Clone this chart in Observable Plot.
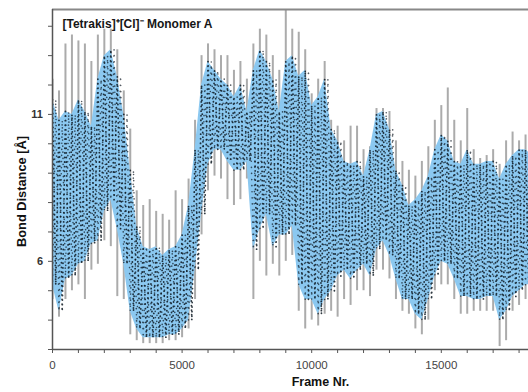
<!DOCTYPE html>
<html><head><meta charset="utf-8">
<script src="https://cdn.jsdelivr.net/npm/d3@7"></script>
<script src="https://cdn.jsdelivr.net/npm/@observablehq/plot@0.6"></script>
<style>html,body{margin:0;padding:0;background:#fff;overflow:hidden}</style>
</head><body><div id="chart"></div>
<script>
// Frame numbers (x), sampled every 250 frames
const frames = [0,250,500,750,1000,1250,1500,1750,2000,2250,2500,2750,3000,3250,3500,3750,4000,4250,4500,4750,5000,5250,5500,5750,6000,6250,6500,6750,7000,7250,7500,7750,8000,8250,8500,8750,9000,9250,9500,9750,10000,10250,10500,10750,11000,11250,11500,11750,12000,12250,12500,12750,13000,13250,13500,13750,14000,14250,14500,14750,15000,15250,15500,15750,16000,16250,16500,16750,17000,17250,17500,17750,18000,18250,18500];
// Upper / lower edge of the dense band (Å)
const bandHi = [11.5,10.8,11.1,11.0,11.5,11.1,10.6,12.2,13.0,13.2,12.3,11.0,9.1,7.2,6.5,6.4,6.5,6.2,6.4,6.5,6.9,7.9,9.8,12.0,12.8,12.5,12.2,12.0,11.6,12.0,11.1,12.5,13.2,12.8,12.2,11.1,12.8,13.0,12.3,12.5,11.3,11.6,12.2,10.5,10.1,9.4,9.3,9.4,8.9,9.8,11.0,11.1,10.5,9.1,8.6,7.9,8.1,8.4,8.9,9.8,10.3,10.1,9.4,9.3,9.8,9.3,9.3,9.4,9.4,8.8,9.3,9.6,9.8,9.8,9.6];
const bandLo = [5.2,4.3,5.4,5.5,5.9,6.0,6.6,6.7,7.7,8.1,7.1,5.9,4.3,3.7,3.4,3.4,3.4,3.4,3.5,3.5,3.7,4.0,5.7,7.6,9.3,9.8,9.8,9.4,9.1,9.1,9.4,6.4,7.1,7.6,6.5,6.9,6.9,7.2,5.2,4.7,4.7,4.2,4.7,5.0,5.5,5.7,5.4,5.7,5.9,5.5,6.4,6.7,6.2,5.4,4.7,4.7,4.2,4.0,4.7,5.5,6.0,5.9,5.4,4.8,4.8,4.7,4.7,4.8,4.8,4.0,4.3,4.8,5.0,5.2,5.2];
// Extreme single-frame excursions (grey spikes)
const spikeHi = [12.2,11.8,13.4,13.7,13.5,13.4,12.8,13.7,13.9,13.9,13.2,11.8,10.5,8.4,7.9,8.1,7.7,7.6,7.4,8.4,8.1,8.8,10.8,13.0,13.4,13.2,13.0,13.0,12.5,12.8,12.2,13.4,13.9,13.7,13.0,12.5,14.6,13.9,13.8,13.2,11.7,12.2,12.8,10.8,10.6,10.1,10.6,10.6,9.8,9.9,11.2,11.2,11.1,10.1,9.4,9.1,8.9,9.4,9.9,10.8,11.3,11.9,10.8,10.1,11.2,9.8,9.5,9.6,9.8,9.3,10.1,10.4,10.1,10.3,10.1];
const spikeLo = [4.7,4.1,4.7,5.0,5.2,4.7,5.7,5.9,6.7,6.5,4.8,4.7,3.5,3.3,3.2,3.2,3.2,3.2,3.3,3.3,3.4,3.7,4.7,6.9,8.4,8.9,8.8,8.1,7.9,8.1,8.8,4.7,6.0,5.5,5.9,5.5,6.0,6.2,4.3,3.7,4.0,3.8,4.2,4.3,4.1,4.7,4.5,5.0,5.0,4.8,5.7,5.7,5.4,4.7,4.3,4.2,3.7,3.5,4.0,5.0,5.2,5.2,4.7,4.2,4.2,4.3,4.3,4.3,4.3,3.1,3.3,4.3,4.5,4.7,4.7];

const xTickValues = [0,1000,2000,3000,4000,5000,6000,7000,8000,9000,10000,11000,12000,13000,14000,15000,16000,17000,18000];
const xTickLabels = [0,5000,10000,15000];
const yTickValues = [3,4,5,6,7,8,9,10,11,12,13,14];
const yTickLabels = [6,11];
const title = "[Tetrakis]\u207A[Cl]\u207B Monomer A";
const xTitle = "Frame Nr.";
const yTitle = "Bond Distance [\u00C5]";

const rows = frames.map((f, i) => ({frame: f, hi: bandHi[i], lo: bandLo[i], sHi: spikeHi[i], sLo: spikeLo[i]}));
const zigA = rows.flatMap(r => [{frame: r.frame, v: r.hi}, {frame: r.frame + 125, v: r.lo}]);
const zigB = rows.flatMap(r => [{frame: r.frame, v: r.lo}, {frame: r.frame + 125, v: r.hi}]);

const blue = "#8bc8f0";
const font = "'Liberation Sans', Arial, sans-serif";
const chart = Plot.plot({
  width: 528,
  height: 392,
  marginLeft: 52,
  marginRight: 0,
  marginTop: 9,
  marginBottom: 43,
  style: {fontFamily: font, fontSize: "11px", background: "#fff", color: "#444"},
  x: {domain: [0, 18364]},
  y: {domain: [3.0, 14.57]},
  marks: [
    Plot.ruleX(rows, {x: "frame", y1: "sLo", y2: "sHi", stroke: "#ababab", strokeWidth: 2, clip: true}),
    Plot.areaY(rows, {x: "frame", y1: "lo", y2: "hi", fill: blue, clip: true}),
    Plot.line(zigA, {x: "frame", y: "v", stroke: "#0b1620", strokeWidth: 1.8, strokeLinecap: "round", strokeDasharray: "0.1,4.5", strokeOpacity: 0.85, clip: true}),
    Plot.line(zigB, {x: "frame", y: "v", stroke: "#0b1620", strokeWidth: 1.6, strokeLinecap: "round", strokeDasharray: "0.1,6", strokeDashoffset: 2.5, strokeOpacity: 0.7, clip: true}),
    Plot.ruleY([14.57], {stroke: "#888", strokeWidth: 2}),
    Plot.ruleX([0], {stroke: "#555", strokeWidth: 1.5}),
    Plot.ruleY([3.0], {stroke: "#555", strokeWidth: 1.5}),
    Plot.axisY({ticks: yTickValues, tickFormat: d => yTickLabels.includes(d) ? String(d) : "", tickSize: 4, tickPadding: 5.5, label: null, stroke: "#555", fill: "#333", fontWeight: "bold", fontSize: 11}),
    Plot.axisX({ticks: xTickValues, tickFormat: d => xTickLabels.includes(d) ? String(d) : "", tickSize: 4, tickPadding: 7, label: null, stroke: "#555", fill: "#444", fontSize: 11.5}),
    Plot.text([title], {frameAnchor: "top-left", dx: 10, dy: 10, fontWeight: "bold", fontSize: 12, fill: "#161616", textAnchor: "start"}),
    Plot.text([xTitle], {frameAnchor: "bottom", dx: 30, dy: 36, fontWeight: "bold", fontSize: 12.5, fill: "#111"}),
    Plot.text([yTitle], {frameAnchor: "left", textAnchor: "middle", rotate: -90, dx: -31, dy: 12, fontWeight: "bold", fontSize: 12.8, fill: "#111"})
  ]
});
document.getElementById("chart").appendChild(chart);
</script>
</body></html>
